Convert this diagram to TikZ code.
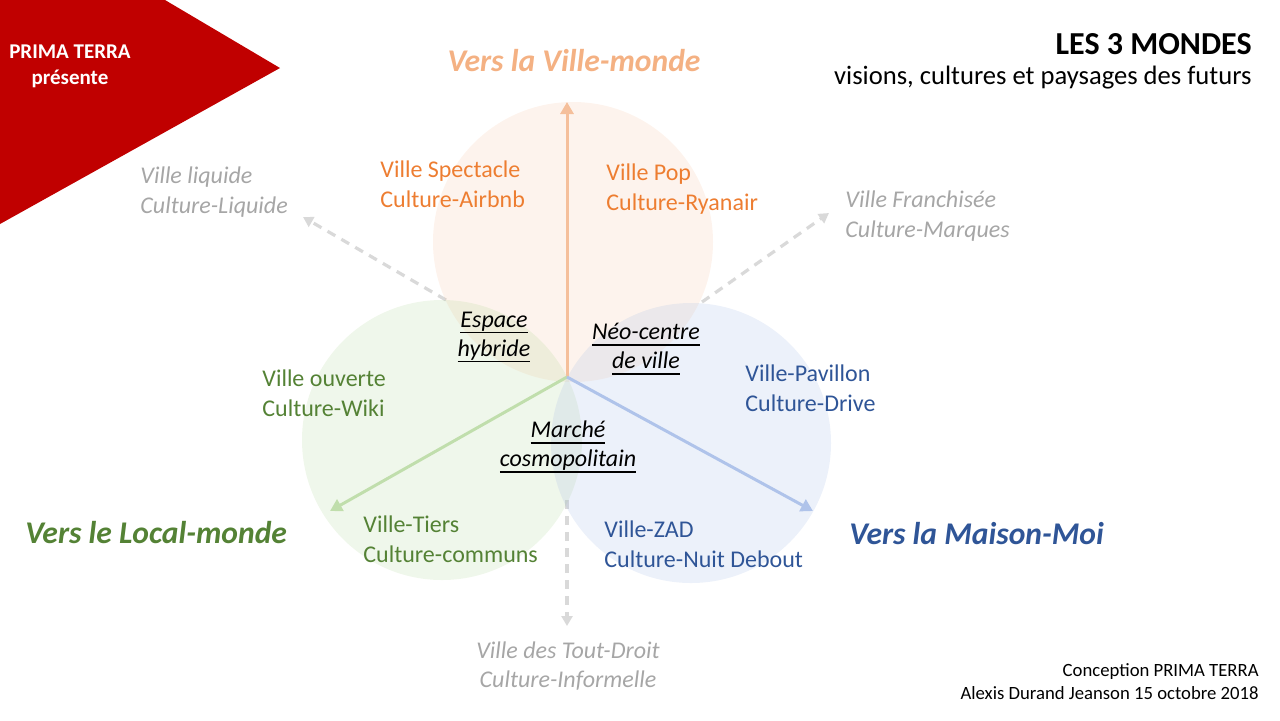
\documentclass[tikz,border=0pt]{standalone}
\usepackage{fontspec}
\setmainfont{Carlito}
\usetikzlibrary{arrows.meta}
\definecolor{primared}{HTML}{C00000}
\definecolor{orfill}{HTML}{F4B183}
\definecolor{grfill}{HTML}{A9D18E}
\definecolor{blfill}{HTML}{A9BFE6}
\definecolor{orarrow}{HTML}{F5BF9B}
\definecolor{grarrow}{HTML}{C0DEAC}
\definecolor{blarrow}{HTML}{AFC3EA}
\definecolor{ortext}{HTML}{ED7D31}
\definecolor{grtext}{HTML}{548235}
\definecolor{bltext}{HTML}{2F5597}
\definecolor{graytext}{HTML}{A6A6A6}
\definecolor{graydash}{HTML}{D9D9D9}
\definecolor{ortitle}{HTML}{F4B183}
\newcommand{\myul}[1]{\setbox0\hbox{#1}\rlap{\rule[-3.2pt]{\wd0}{0.9pt}}\box0}
\tikzset{
  lbl/.style={inner sep=0pt, align=left, anchor=west, font=\fontsize{12}{14.8}\selectfont},
  glbl/.style={lbl, text=graytext, font=\fontsize{12}{14.8}\selectfont\itshape},
  zone/.style={inner sep=0pt, align=center, font=\fontsize{12}{14.5}\selectfont\itshape},
  world/.style={inner sep=0pt, font=\fontsize{15.8}{18}\selectfont\bfseries\itshape},
  mainarrow/.style={line width=1.5pt, -{Triangle[width=6.5pt,length=6pt]}},
  dasharrow/.style={draw=graydash, line width=1.6pt, dash pattern=on 4.5pt off 3.5pt, -{Triangle[width=5.5pt,length=5pt]}},
  circ/.style={circle, inner sep=0pt, minimum size=140pt}
}
\begin{document}
\begin{tikzpicture}[x=0.5pt,y=-0.5pt]
\useasboundingbox (0,0) rectangle (1280,720);
% red banner
\fill[primared] (0,0) -- (165,0) -- (280,68) -- (0,224) -- cycle;
\node[inner sep=0pt, text=white, align=center, font=\fontsize{10.5}{13}\selectfont\bfseries] (prima) at (70,66) {PRIMA TERRA\\présente};
% title
\node[inner sep=0pt, anchor=east, font=\fontsize{16}{18}\selectfont\bfseries] (title) at (1252,44) {LES 3 MONDES};
\node[inner sep=0pt, anchor=east, font=\fontsize{13.3}{15}\selectfont] (subtitle) at (1252,78) {visions, cultures et paysages des futurs};
% centre and ends
\coordinate (c) at (567,377);
\coordinate (up) at (567,102);
\coordinate (gl) at (330,511);
\coordinate (br) at (813,511);
\coordinate (ulstart) at (446,300);
\coordinate (ulend) at (303,217);
\coordinate (urstart) at (702,302);
\coordinate (urend) at (829,213);
\coordinate (dnstart) at (567,500);
\coordinate (dnend) at (567,626);
% dashed arrows
\draw[dasharrow] (ulstart) -- (ulend);
\draw[dasharrow] (urstart) -- (urend);
\draw[dasharrow] (dnstart) -- (dnend);
% circles
\node[circ, fill=orfill, fill opacity=0.15] (corange) at (573,242) {};
\node[circ, fill=grfill, fill opacity=0.18] (cgreen) at (442,440) {};
\node[circ, fill=blfill, fill opacity=0.22] (cblue) at (691,443) {};
% main arrows
\draw[mainarrow, draw=orarrow] (c) -- (up);
\draw[mainarrow, draw=grarrow] (c) -- (gl);
\draw[mainarrow, draw=blarrow] (c) -- (br);
% world titles
\node[world, text=ortitle] (wville) at (574,61) {Vers la Ville-monde};
\node[world, text=grtext, anchor=west] (wlocal) at (25,533) {Vers le Local-monde};
\node[world, text=bltext, anchor=west] (wmaison) at (849,534) {Vers la Maison-Moi};
% gray labels
\node[glbl] (liquide) at (140,192) {Ville liquide\\Culture-Liquide};
\node[glbl] (franch) at (845,216) {Ville Franchisée\\Culture-Marques};
\node[glbl, anchor=center, align=center] (toutdroit) at (568,666) {Ville des Tout-Droit\\Culture-Informelle};
% coloured labels
\node[lbl, text=ortext] (spect) at (380,184) {Ville Spectacle\\Culture-Airbnb};
\node[lbl, text=ortext] (pop) at (606,189) {Ville Pop\\Culture-Ryanair};
\node[lbl, text=grtext] (ouverte) at (262,393) {Ville ouverte\\Culture-Wiki};
\node[lbl, text=bltext] (pavillon) at (745,388) {Ville-Pavillon\\Culture-Drive};
\node[lbl, text=grtext] (tiers) at (363,539) {Ville-Tiers\\Culture-communs};
\node[lbl, text=bltext] (zad) at (604,544) {Ville-ZAD\\Culture-Nuit Debout};
% zones
\node[zone] (espace) at (494,337) {\myul{Espace}\\\myul{hybride}};
\node[zone] (neo) at (646,349) {\myul{Néo-centre}\\\myul{de ville}};
\node[zone] (marche) at (568,447) {\myul{Marché}\\\myul{cosmopolitain}};
% credits
\node[inner sep=0pt, anchor=east, align=right, font=\fontsize{9.35}{11.5}\selectfont] (credits) at (1259,682) {Conception PRIMA TERRA\\Alexis Durand Jeanson 15 octobre 2018};
\end{tikzpicture}
\end{document}
